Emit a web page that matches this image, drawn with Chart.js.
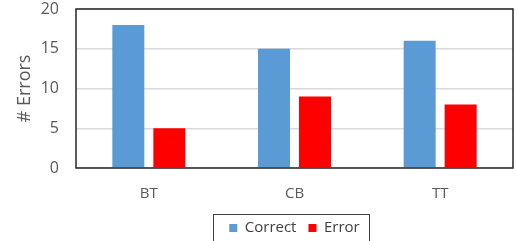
<!DOCTYPE html>
<html>
<head>
<meta charset="utf-8">
<script src="https://cdn.jsdelivr.net/npm/chart.js@4/dist/chart.umd.min.js"></script>
<style>
  html, body { margin: 0; padding: 0; background: #fff; }
  #wrap { width: 516px; height: 241px; }
</style>
</head>
<body>
<div id="wrap"><canvas id="myChart" width="516" height="241"></canvas></div>
<script>
// chart data
var categories = ['BT', 'CB', 'TT'];
var correctCounts = [18, 15, 16];
var errorCounts = [5, 9, 8];
var yTicks = [0, 5, 10, 15, 20];

// frame round plot area + border round legend
var framePlugin = {
    id: 'frame',
    afterDraw: function(chart) {
        var ctx = chart.ctx;
        var a = chart.chartArea;
        ctx.save();
        ctx.strokeStyle = '#262626';
        ctx.lineWidth = 1.5;
        ctx.strokeRect(a.left, a.top, a.right - a.left, a.bottom - a.top);

        var lg = chart.legend;
        if (lg && lg.legendHitBoxes && lg.legendHitBoxes.length) {
            var hb = lg.legendHitBoxes;
            var last = hb[hb.length - 1];
            var x0 = hb[0].left - 16;
            var x1 = last.left + last.width + 10;
            var y0 = lg.top + 5.5;
            ctx.strokeStyle = '#404040';
            ctx.lineWidth = 1;
            ctx.strokeRect(Math.round(x0) + 0.5, Math.round(y0) + 0.5, Math.round(x1 - x0), 60);
        }
        ctx.restore();
    }
};

var ctx = document.getElementById('myChart').getContext('2d');

var myChart = new Chart(ctx, {
    type: 'bar',
    data: {
        labels: categories,
        datasets: [{
            label: 'Correct',
            data: correctCounts,
            backgroundColor: '#5B9BD5',
            borderWidth: 0,
            categoryPercentage: 0.563,
            barPercentage: 0.78
        }, {
            label: 'Error',
            data: errorCounts,
            backgroundColor: '#FF0000',
            borderWidth: 0,
            categoryPercentage: 0.563,
            barPercentage: 0.78
        }]
    },
    options: {
        responsive: false,
        animation: false,
        layout: {
            padding: { top: 9, right: 3, left: 0, bottom: -4.5 }
        },
        plugins: {
            legend: {
                position: 'bottom',
                fullSize: false,   // centre legend under plot area, not whole canvas
                labels: {
                    boxWidth: 8,
                    boxHeight: 8,
                    padding: 12,
                    color: '#404040',
                    font: { family: 'Open Sans', size: 15 }
                }
            },
            tooltip: { enabled: false }
        },
        scales: {
            x: {
                grid: { display: false, drawTicks: false },
                border: { display: false },
                ticks: {
                    color: '#595959',
                    padding: 17,
                    font: { family: 'Open Sans', size: 15 }
                },
                afterFit: function(scale) { scale.height = 40.5; }
            },
            y: {
                min: 0,
                max: 20,
                afterBuildTicks: function(scale) {
                    scale.ticks = yTicks.map(function(v) { return { value: v }; });
                },
                grid: { color: '#d9d9d9', lineWidth: 1.5, drawTicks: false },
                border: { display: false },
                ticks: {
                    color: '#595959',
                    padding: 17,
                    font: { family: 'Open Sans', size: 16 }
                },
                title: {
                    display: true,
                    text: '# Errors',
                    color: '#595959',
                    padding: { top: 14, bottom: 0 },
                    font: { family: 'Open Sans', size: 18 }
                },
                afterFit: function(scale) {
                    scale.width = 76;
                    // drop the label overhang padding so the plot top sits at 9px
                    scale.paddingTop = 0;
                    scale.paddingBottom = 0;
                }
            }
        }
    },
    plugins: [framePlugin]
});
</script>
</body>
</html>
